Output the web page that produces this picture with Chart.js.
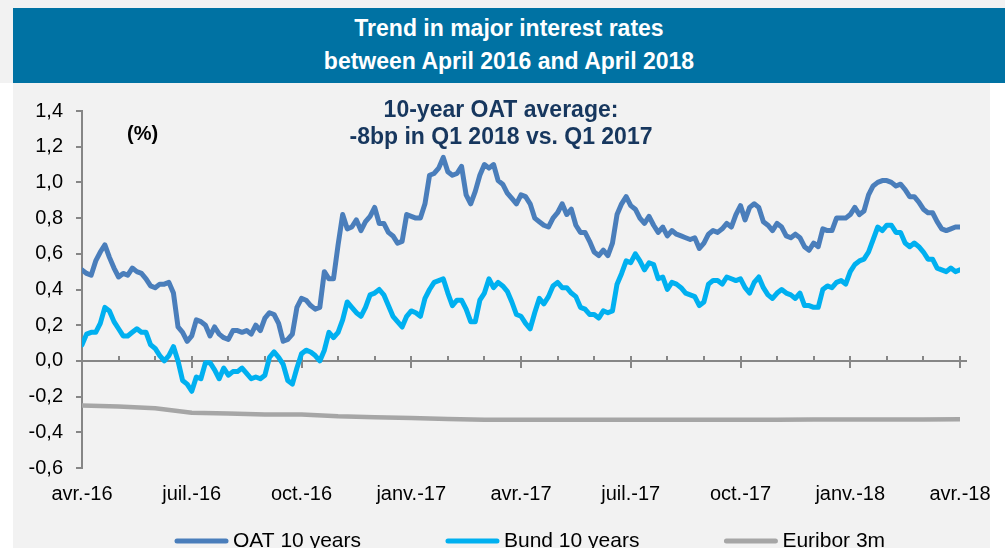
<!DOCTYPE html>
<html>
<head>
<meta charset="utf-8">
<title>Trend in major interest rates</title>
<script src="https://cdn.jsdelivr.net/npm/chart.js@4.4.1/dist/chart.umd.min.js"></script>
<style>
  html, body { margin: 0; padding: 0; background: #fff; }
  body {
    width: 1005px; height: 548px; position: relative; overflow: hidden;
    font-family: "Liberation Sans", Arial, sans-serif;
  }
  .panel { position: absolute; left: 13px; top: 0; width: 977px; height: 548px; background: #f2f2f2; }
  .top-strip { position: absolute; left: 0; top: 0; width: 1005px; height: 83px; background: #f2f2f2; }
  .banner { position: absolute; left: 13px; top: 8px; width: 992px; height: 75px; background: #0072a3; }
  .banner-title {
    position: absolute; left: 13px; top: 12px; width: 992px;
    text-align: center; color: #fff; font-weight: bold; font-size: 23px; line-height: 33px;
  }
  .note {
    position: absolute; left: 251px; top: 96px; width: 500px;
    text-align: center; color: #17375e; font-weight: bold; font-size: 23px; line-height: 27px;
  }
  .unit { position: absolute; left: 127px; top: 121px; font-weight: bold; font-size: 20px; line-height: 24px; color: #000; }
  #rates { position: absolute; left: 0; top: 0; }
</style>
</head>
<body>
<div class="top-strip"></div>
<div class="panel"></div>
<div class="banner"></div>
<div class="banner-title">Trend in major interest rates<br>between April 2016 and April 2018</div>
<canvas id="rates" width="1005" height="548"></canvas>
<div class="note">10-year OAT average:<br>-8bp in Q1 2018 vs. Q1 2017</div>
<div class="unit">(%)</div>

<script>
// x is counted in months from April 2016
const xTickLabels = ["avr.-16", "juil.-16", "oct.-16", "janv.-17", "avr.-17",
  "juil.-17", "oct.-17", "janv.-18", "avr.-18"];
const yTicks = { min: -0.6, max: 1.4, step: 0.2 };

// readings every eighth of a month (one row = two months)
const rateStep = 0.125;
const oatValues = [
  0.51, 0.49, 0.48, 0.56, 0.61, 0.65, 0.58, 0.52, 0.47, 0.49, 0.48, 0.52, 0.50, 0.49, 0.46, 0.42,
  0.41, 0.43, 0.43, 0.44, 0.38, 0.19, 0.16, 0.11, 0.14, 0.23, 0.22, 0.20, 0.14, 0.19, 0.15, 0.13,
  0.12, 0.17, 0.17, 0.16, 0.17, 0.15, 0.20, 0.17, 0.24, 0.27, 0.26, 0.21, 0.11, 0.12, 0.15, 0.30,
  0.35, 0.34, 0.31, 0.29, 0.30, 0.50, 0.46, 0.46, 0.65, 0.82, 0.74, 0.75, 0.79, 0.73, 0.78, 0.81,
  0.86, 0.77, 0.77, 0.72, 0.70, 0.66, 0.67, 0.82, 0.81, 0.80, 0.80, 0.88, 1.04, 1.05, 1.08, 1.14,
  1.06, 1.04, 1.05, 1.09, 0.93, 0.88, 0.95, 1.04, 1.10, 1.08, 1.10, 1.01, 0.99, 0.94, 0.91, 0.88,
  0.93, 0.92, 0.88, 0.80, 0.78, 0.76, 0.75, 0.80, 0.83, 0.88, 0.82, 0.85, 0.76, 0.72, 0.72, 0.67,
  0.61, 0.59, 0.62, 0.59, 0.66, 0.82, 0.88, 0.92, 0.87, 0.85, 0.80, 0.77, 0.81, 0.76, 0.72, 0.75,
  0.70, 0.73, 0.71, 0.70, 0.69, 0.68, 0.69, 0.63, 0.66, 0.71, 0.73, 0.72, 0.74, 0.77, 0.75, 0.82,
  0.87, 0.79, 0.86, 0.88, 0.86, 0.78, 0.76, 0.73, 0.77, 0.75, 0.70, 0.69, 0.71, 0.69, 0.64, 0.62,
  0.66, 0.64, 0.74, 0.73, 0.73, 0.80, 0.80, 0.80, 0.82, 0.86, 0.82, 0.84, 0.93, 0.98, 1.00, 1.01,
  1.01, 1.00, 0.98, 0.99, 0.96, 0.92, 0.92, 0.89, 0.85, 0.83, 0.83, 0.78, 0.74, 0.73, 0.74, 0.75,
  0.75
];
const bundValues = [
  0.09, 0.15, 0.16, 0.16, 0.21, 0.30, 0.28, 0.22, 0.18, 0.14, 0.14, 0.16, 0.18, 0.16, 0.16, 0.09,
  0.07, 0.03, 0.00, 0.03, 0.08, 0.00, -0.11, -0.13, -0.17, -0.09, -0.10, -0.01, -0.01, -0.05, -0.10, -0.04,
  -0.08, -0.06, -0.06, -0.04, -0.07, -0.10, -0.09, -0.10, -0.08, 0.02, 0.05, 0.02, -0.02, -0.11, -0.13, -0.04,
  0.04, 0.06, 0.05, 0.03, 0.00, 0.06, 0.16, 0.13, 0.16, 0.23, 0.33, 0.30, 0.27, 0.25, 0.30, 0.37,
  0.38, 0.40, 0.37, 0.31, 0.25, 0.22, 0.19, 0.25, 0.28, 0.27, 0.25, 0.35, 0.40, 0.44, 0.45, 0.46,
  0.38, 0.31, 0.34, 0.34, 0.29, 0.22, 0.22, 0.34, 0.38, 0.46, 0.41, 0.44, 0.42, 0.39, 0.33, 0.26,
  0.25, 0.21, 0.18, 0.27, 0.35, 0.32, 0.36, 0.42, 0.44, 0.41, 0.41, 0.38, 0.36, 0.30, 0.29, 0.26,
  0.26, 0.24, 0.28, 0.27, 0.28, 0.43, 0.49, 0.56, 0.55, 0.60, 0.56, 0.51, 0.55, 0.54, 0.46, 0.47,
  0.40, 0.44, 0.43, 0.41, 0.38, 0.37, 0.36, 0.31, 0.33, 0.43, 0.45, 0.45, 0.43, 0.47, 0.46, 0.45,
  0.46, 0.41, 0.38, 0.44, 0.47, 0.41, 0.37, 0.35, 0.38, 0.40, 0.38, 0.37, 0.35, 0.38, 0.31, 0.31,
  0.30, 0.30, 0.40, 0.42, 0.41, 0.44, 0.45, 0.43, 0.50, 0.54, 0.56, 0.57, 0.61, 0.68, 0.75, 0.73,
  0.76, 0.76, 0.72, 0.72, 0.66, 0.64, 0.66, 0.64, 0.61, 0.57, 0.57, 0.52, 0.51, 0.50, 0.52, 0.50,
  0.51
];

// monthly readings
const euriborStep = 1;
const euriborValues = [
  -0.250, -0.255, -0.265, -0.290, -0.295, -0.300, -0.300, -0.310, -0.315, -0.320,
  -0.325, -0.330, -0.330, -0.330, -0.330, -0.330, -0.330, -0.330, -0.330, -0.330,
  -0.328, -0.328, -0.328, -0.328, -0.327
];

const seriesNames = ["OAT 10 years", "Bund 10 years", "Euribor 3m"];
const seriesColors = ["#4a7ebb", "#00b0f0", "#a6a6a6"];

function toPoints(values, step) {
  return values.map((v, i) => ({ x: i * step, y: v }));
}

const axisGrey = "#868686";

// zero line with monthly tick marks, like the Excel category axis
const zeroAxisPlugin = {
  id: "zeroAxis",
  beforeDatasetsDraw(chart) {
    const { ctx, scales } = chart;
    const x = scales.x, y = scales.y;
    const y0 = Math.round(y.getPixelForValue(0));
    ctx.save();
    ctx.strokeStyle = axisGrey;
    ctx.lineWidth = 2;
    ctx.beginPath();
    ctx.moveTo(x.left, y0);
    ctx.lineTo(x.getPixelForValue(x.max) + 7, y0);
    ctx.stroke();
    for (let m = 1; m <= x.max; m++) {
      const px = Math.round(x.getPixelForValue(m));
      ctx.beginPath();
      ctx.moveTo(px, y0 - 5);
      ctx.lineTo(px, m % 3 === 0 ? y0 + 7 : y0);
      ctx.stroke();
    }
    ctx.restore();
  }
};

// legend along the bottom edge
const bottomLegendPlugin = {
  id: "bottomLegend",
  afterDraw(chart) {
    const { ctx } = chart;
    const yPos = 541;
    let xPos = 175;
    ctx.save();
    ctx.font = "21px 'Liberation Sans', Arial, sans-serif";
    ctx.textBaseline = "middle";
    ctx.lineCap = "round";
    chart.data.datasets.forEach((ds) => {
      ctx.strokeStyle = ds.borderColor;
      ctx.lineWidth = 5;
      ctx.beginPath();
      ctx.moveTo(xPos + 2, yPos);
      ctx.lineTo(xPos + 51, yPos);
      ctx.stroke();
      ctx.fillStyle = "#000";
      ctx.fillText(ds.label, xPos + 58, yPos);
      xPos += 58 + ctx.measureText(ds.label).width + 85;
    });
    ctx.restore();
  }
};

Chart.defaults.font.family = "'Liberation Sans', Arial, sans-serif";
Chart.defaults.color = "#000";

new Chart(document.getElementById("rates"), {
  type: "line",
  data: {
    datasets: [
      {
        label: seriesNames[0],
        data: toPoints(oatValues, rateStep),
        borderColor: seriesColors[0],
        borderWidth: 5
      },
      {
        label: seriesNames[1],
        data: toPoints(bundValues, rateStep),
        borderColor: seriesColors[1],
        borderWidth: 5
      },
      {
        label: seriesNames[2],
        data: toPoints(euriborValues, euriborStep),
        borderColor: seriesColors[2],
        borderWidth: 4.5
      }
    ]
  },
  options: {
    responsive: false,
    animation: false,
    devicePixelRatio: 1,
    layout: { padding: { left: 0, right: 45, top: 111, bottom: 0 } },
    elements: {
      point: { radius: 0 },
      line: { tension: 0, borderJoinStyle: "round", borderCapStyle: "round" }
    },
    plugins: {
      legend: { display: false },
      tooltip: { enabled: false }
    },
    scales: {
      x: {
        type: "linear",
        min: 0,
        max: (xTickLabels.length - 1) * 3,
        grid: { display: false, drawTicks: false },
        border: { display: false },
        ticks: {
          stepSize: 3,
          autoSkip: false,
          maxRotation: 0,
          padding: 14,
          font: { size: 20 },
          callback: (v) => xTickLabels[Math.round(v / 3)] || ""
        },
        afterFit: (s) => { s.height = 80; s.paddingLeft = 0; s.paddingRight = 0; }
      },
      y: {
        min: yTicks.min,
        max: yTicks.max,
        grid: { drawOnChartArea: false, drawTicks: true, tickLength: 6, color: axisGrey, lineWidth: 2 },
        border: { display: true, color: axisGrey, width: 2 },
        ticks: {
          stepSize: yTicks.step,
          padding: 13,
          font: { size: 20 },
          callback: (v) => (Math.round(v * 10) / 10).toFixed(1).replace(".", ",")
        },
        afterFit: (s) => { s.width = 82; }
      }
    }
  },
  plugins: [zeroAxisPlugin, bottomLegendPlugin]
});
</script>
</body>
</html>
